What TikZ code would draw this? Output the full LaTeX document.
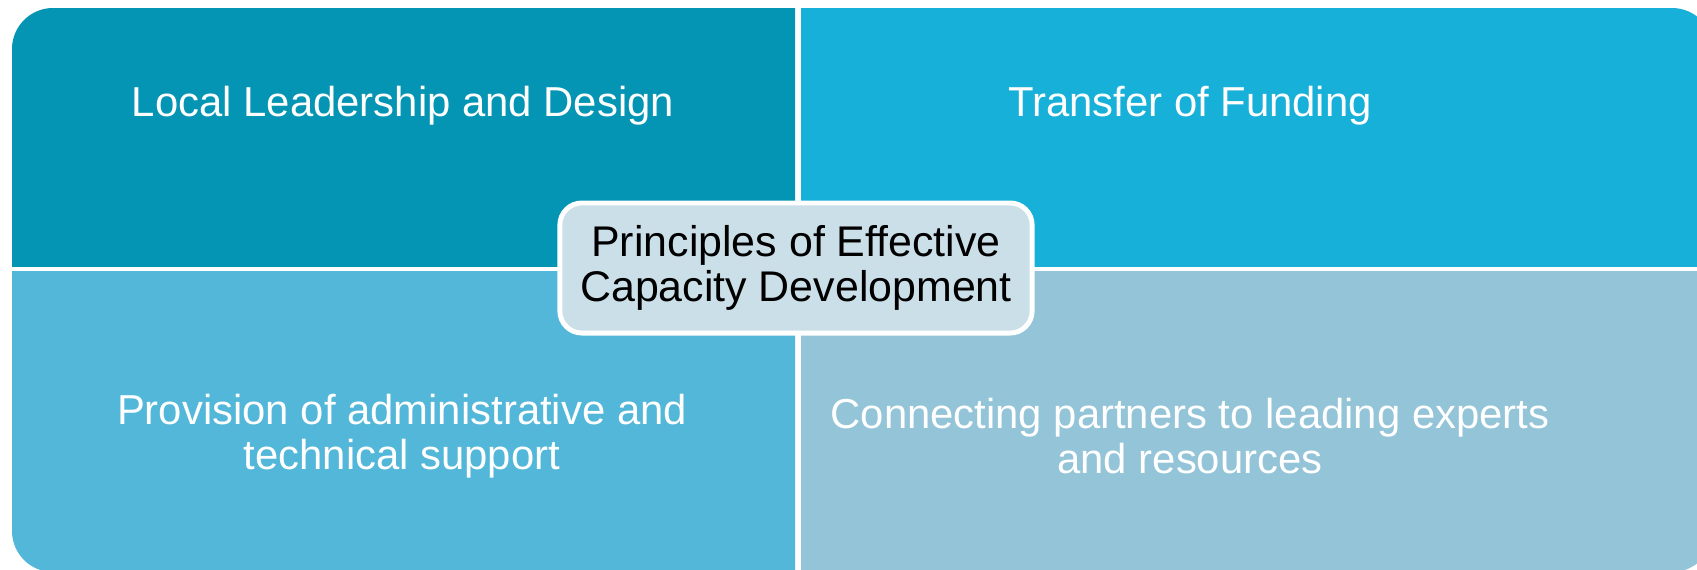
\documentclass[tikz,border=0pt]{standalone}
\usepackage{fontspec}
\setmainfont{Liberation Sans}
\usepackage{xcolor}
\usetikzlibrary{positioning}
\definecolor{leadcol}{HTML}{0395B3}
\definecolor{fundcol}{HTML}{16B0D9}
\definecolor{provcol}{HTML}{52B7D8}
\definecolor{conncol}{HTML}{93C4D8}
\definecolor{corecol}{HTML}{CBDFE8}
\begin{document}
\begin{tikzpicture}[x=0.01cm,y=0.01cm]
  \tikzstyle{quadtext}=[text=white, font=\fontsize{11.9}{12.8}\selectfont, align=center]
  \tikzstyle{corebox}=[fill=corecol, draw=white, line width=1.4pt, rounded corners=0.22cm,
    minimum width=4.72cm, minimum height=1.3cm, text=black, font=\fontsize{12.2}{12.8}\selectfont, align=center]
  \useasboundingbox (0,0) rectangle (1697,569);
  \clip (0,0) rectangle (1697,569);
  % four quarters of one rounded block
  \foreach \x/\y/\w/\h/\c in {12/303/783/260/leadcol, 801/303/920/260/fundcol,
                              12/-10/783/308/provcol, 801/-10/920/308/conncol}{
    \begin{scope}
      \clip (\x,\y) rectangle ++(\w,\h);
      \fill[\c, rounded corners=0.41cm] (12,-3) rectangle (1713,561);
    \end{scope}
  }
  \node[quadtext] (lead) at (403,463) {Local Leadership and Design};
  \node[quadtext] (fund) at (1190,463) {Transfer of Funding};
  \node[quadtext] (prov) at (402,133) {Provision of administrative and\\technical support};
  \node[quadtext] (conn) at (1190,133) {Connecting partners to leading experts\\and resources};
  \node[corebox] (core) at (796,301) {Principles of Effective\\Capacity Development};
\end{tikzpicture}
\end{document}
